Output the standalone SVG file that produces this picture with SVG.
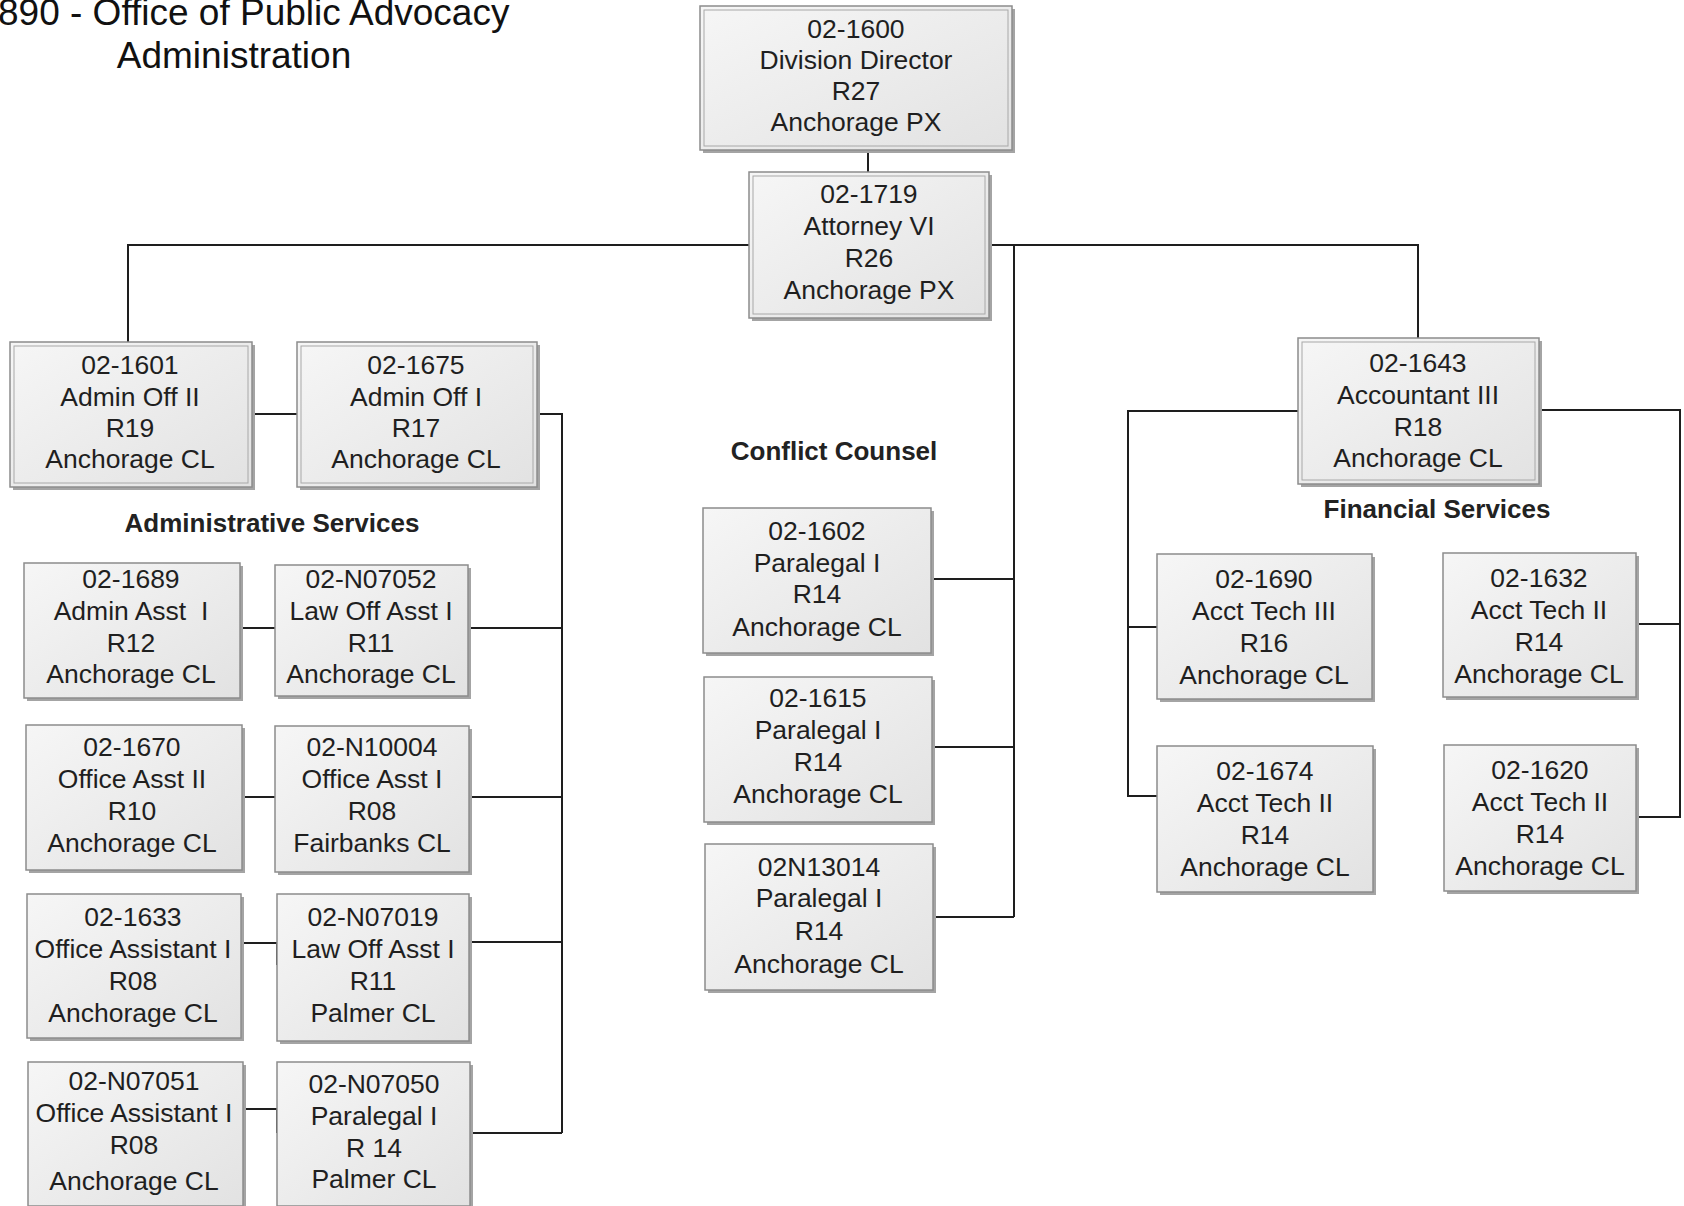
<svg xmlns="http://www.w3.org/2000/svg" width="1684" height="1206" viewBox="0 0 1684 1206">
<defs>
<linearGradient id="g" x1="0" y1="0" x2="1" y2="1">
<stop offset="0" stop-color="#f6f6f6"/>
<stop offset="1" stop-color="#e2e2e2"/>
</linearGradient>
<style>
.sh{fill:#a4a4a4}
.box{fill:url(#g);stroke:#8c8c8c;stroke-width:1.5}
.in{fill:none;stroke:#a8a8a8;stroke-width:1}
.t{font-family:"Liberation Sans",Arial,sans-serif;font-size:26.5px;fill:#1f1f1f;text-anchor:middle}
.lbl{font-family:"Liberation Sans",Arial,sans-serif;font-size:26px;font-weight:bold;fill:#222;text-anchor:middle}
.ttl{font-family:"Liberation Sans",Arial,sans-serif;font-size:37px;fill:#111}
.c{fill:none;stroke:#1e1e1e;stroke-width:2}
</style>
</defs>
<rect width="1684" height="1206" fill="#fff"/>
<g id="title">
<text class="ttl" x="-2" y="25">890 - Office of Public Advocacy</text>
<text class="ttl" x="234" y="68" text-anchor="middle">Administration</text>
</g>
<g id="connectors">
<path class="c" d="M868,150 V172"/>
<path class="c" d="M749,245 H128 V342"/>
<path class="c" d="M989,245 H1418 V338"/>
<path class="c" d="M1014,245 V917 M931,579 H1014 M932,747 H1014 M933,917 H1014"/>
<path class="c" d="M252,414 H297"/>
<path class="c" d="M537,414 H562 V1133 M468,628 H562 M469,797 H562 M469,942 H562 M470,1133 H562"/>
<path class="c" d="M240,628 H275 M242,797 H275 M241,965 V943 H277 V965 M243,1133 V1109 H277 V1133"/>
<path class="c" d="M1298,411 H1128 V796 H1157 M1128,627 H1157"/>
<path class="c" d="M1539,410 H1680 V817 H1636 M1634,624 H1680"/>
</g>
<g id="labels">
<text class="lbl" x="834" y="460">Conflict Counsel</text>
<text class="lbl" x="272" y="532">Administrative Services</text>
<text class="lbl" x="1437" y="518">Financial Services</text>
</g>
<g id="n1600">
<rect class="sh" x="703" y="9" width="312" height="144"/>
<rect class="box" x="700" y="6" width="312" height="144"/>
<rect class="in" x="704" y="10" width="304" height="136"/>
<text class="t" x="856" y="38">02-1600</text><text class="t" x="856" y="69">Division Director</text><text class="t" x="856" y="100">R27</text><text class="t" x="856" y="131">Anchorage PX</text>
</g>
<g id="n1719">
<rect class="sh" x="752" y="175" width="240" height="146"/>
<rect class="box" x="749" y="172" width="240" height="146"/>
<rect class="in" x="753" y="176" width="232" height="138"/>
<text class="t" x="869" y="203">02-1719</text><text class="t" x="869" y="235">Attorney VI</text><text class="t" x="869" y="267">R26</text><text class="t" x="869" y="299">Anchorage PX</text>
</g>
<g id="n1601">
<rect class="sh" x="13" y="345" width="242" height="145"/>
<rect class="box" x="10" y="342" width="242" height="145"/>
<rect class="in" x="14" y="346" width="234" height="137"/>
<text class="t" x="130" y="374">02-1601</text><text class="t" x="130" y="406">Admin Off II</text><text class="t" x="130" y="437">R19</text><text class="t" x="130" y="468">Anchorage CL</text>
</g>
<g id="n1675">
<rect class="sh" x="300" y="345" width="240" height="145"/>
<rect class="box" x="297" y="342" width="240" height="145"/>
<rect class="in" x="301" y="346" width="232" height="137"/>
<text class="t" x="416" y="374">02-1675</text><text class="t" x="416" y="406">Admin Off I</text><text class="t" x="416" y="437">R17</text><text class="t" x="416" y="468">Anchorage CL</text>
</g>
<g id="n1643">
<rect class="sh" x="1301" y="341" width="241" height="146"/>
<rect class="box" x="1298" y="338" width="241" height="146"/>
<rect class="in" x="1302" y="342" width="233" height="138"/>
<text class="t" x="1418" y="372">02-1643</text><text class="t" x="1418" y="404">Accountant III</text><text class="t" x="1418" y="436">R18</text><text class="t" x="1418" y="467">Anchorage CL</text>
</g>
<g id="n1689">
<rect class="sh" x="27" y="566" width="216" height="135"/>
<rect class="box" x="24" y="563" width="216" height="135"/>
<text class="t" x="131" y="588">02-1689</text><text class="t" x="131" y="620" xml:space="preserve">Admin Asst  I</text><text class="t" x="131" y="652">R12</text><text class="t" x="131" y="683">Anchorage CL</text>
</g>
<g id="nN07052">
<rect class="sh" x="278" y="568" width="193" height="131"/>
<rect class="box" x="275" y="565" width="193" height="131"/>
<text class="t" x="371" y="588">02-N07052</text><text class="t" x="371" y="620">Law Off Asst I</text><text class="t" x="371" y="652">R11</text><text class="t" x="371" y="683">Anchorage CL</text>
</g>
<g id="n1670">
<rect class="sh" x="29" y="728" width="216" height="145"/>
<rect class="box" x="26" y="725" width="216" height="145"/>
<text class="t" x="132" y="756">02-1670</text><text class="t" x="132" y="788">Office Asst II</text><text class="t" x="132" y="820">R10</text><text class="t" x="132" y="852">Anchorage CL</text>
</g>
<g id="nN10004">
<rect class="sh" x="278" y="729" width="194" height="146"/>
<rect class="box" x="275" y="726" width="194" height="146"/>
<text class="t" x="372" y="756">02-N10004</text><text class="t" x="372" y="788">Office Asst I</text><text class="t" x="372" y="820">R08</text><text class="t" x="372" y="852">Fairbanks CL</text>
</g>
<g id="n1633">
<rect class="sh" x="30" y="897" width="214" height="144"/>
<rect class="box" x="27" y="894" width="214" height="144"/>
<text class="t" x="133" y="926">02-1633</text><text class="t" x="133" y="958">Office Assistant I</text><text class="t" x="133" y="990">R08</text><text class="t" x="133" y="1022">Anchorage CL</text>
</g>
<g id="nN07019">
<rect class="sh" x="280" y="897" width="192" height="147"/>
<rect class="box" x="277" y="894" width="192" height="147"/>
<text class="t" x="373" y="926">02-N07019</text><text class="t" x="373" y="958">Law Off Asst I</text><text class="t" x="373" y="990">R11</text><text class="t" x="373" y="1022">Palmer CL</text>
</g>
<g id="nN07051">
<rect class="sh" x="31" y="1065" width="215" height="144"/>
<rect class="box" x="28" y="1062" width="215" height="144"/>
<text class="t" x="134" y="1090">02-N07051</text><text class="t" x="134" y="1122">Office Assistant I</text><text class="t" x="134" y="1154">R08</text><text class="t" x="134" y="1190">Anchorage CL</text>
</g>
<g id="nN07050">
<rect class="sh" x="280" y="1065" width="193" height="144"/>
<rect class="box" x="277" y="1062" width="193" height="144"/>
<text class="t" x="374" y="1093">02-N07050</text><text class="t" x="374" y="1125">Paralegal I</text><text class="t" x="374" y="1157">R 14</text><text class="t" x="374" y="1188">Palmer CL</text>
</g>
<g id="n1602">
<rect class="sh" x="706" y="511" width="228" height="145"/>
<rect class="box" x="703" y="508" width="228" height="145"/>
<text class="t" x="817" y="540">02-1602</text><text class="t" x="817" y="572">Paralegal I</text><text class="t" x="817" y="603">R14</text><text class="t" x="817" y="636">Anchorage CL</text>
</g>
<g id="n1615">
<rect class="sh" x="707" y="680" width="228" height="145"/>
<rect class="box" x="704" y="677" width="228" height="145"/>
<text class="t" x="818" y="707">02-1615</text><text class="t" x="818" y="739">Paralegal I</text><text class="t" x="818" y="771">R14</text><text class="t" x="818" y="803">Anchorage CL</text>
</g>
<g id="n13014">
<rect class="sh" x="708" y="847" width="228" height="146"/>
<rect class="box" x="705" y="844" width="228" height="146"/>
<text class="t" x="819" y="876">02N13014</text><text class="t" x="819" y="907">Paralegal I</text><text class="t" x="819" y="940">R14</text><text class="t" x="819" y="973">Anchorage CL</text>
</g>
<g id="n1690">
<rect class="sh" x="1160" y="557" width="215" height="145"/>
<rect class="box" x="1157" y="554" width="215" height="145"/>
<text class="t" x="1264" y="588">02-1690</text><text class="t" x="1264" y="620">Acct Tech III</text><text class="t" x="1264" y="652">R16</text><text class="t" x="1264" y="684">Anchorage CL</text>
</g>
<g id="n1632">
<rect class="sh" x="1446" y="556" width="193" height="144"/>
<rect class="box" x="1443" y="553" width="193" height="144"/>
<text class="t" x="1539" y="587">02-1632</text><text class="t" x="1539" y="619">Acct Tech II</text><text class="t" x="1539" y="651">R14</text><text class="t" x="1539" y="683">Anchorage CL</text>
</g>
<g id="n1674">
<rect class="sh" x="1160" y="749" width="216" height="146"/>
<rect class="box" x="1157" y="746" width="216" height="146"/>
<text class="t" x="1265" y="780">02-1674</text><text class="t" x="1265" y="812">Acct Tech II</text><text class="t" x="1265" y="844">R14</text><text class="t" x="1265" y="876">Anchorage CL</text>
</g>
<g id="n1620">
<rect class="sh" x="1447" y="748" width="192" height="146"/>
<rect class="box" x="1444" y="745" width="192" height="146"/>
<text class="t" x="1540" y="779">02-1620</text><text class="t" x="1540" y="811">Acct Tech II</text><text class="t" x="1540" y="843">R14</text><text class="t" x="1540" y="875">Anchorage CL</text>
</g>
</svg>
